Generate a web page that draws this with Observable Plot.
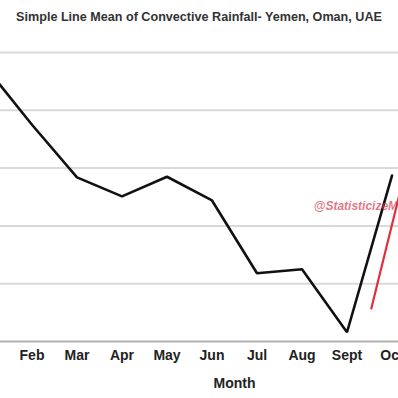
<!DOCTYPE html>
<html>
<head>
<meta charset="utf-8">
<script src="https://cdn.jsdelivr.net/npm/d3@7"></script>
<script src="https://cdn.jsdelivr.net/npm/@observablehq/plot@0.6"></script>
<style>
  html, body { margin: 0; padding: 0; width: 398px; height: 398px; overflow: hidden; background: #fff; }
  #title { position: absolute; left: 0; top: 0; width: 398px; height: 30px; line-height: 34px; text-align: center;
           font-family: "Liberation Sans", Arial, sans-serif; font-weight: bold; font-size: 12.6px; color: #333; white-space: nowrap; }
  #chart { position: absolute; left: -36px; top: 30px; width: 540px; height: 368px; }
  #chart svg { max-width: none !important; width: 540px; height: 368px; }
</style>
</head>
<body>
<div id="title">Simple Line Mean of Convective Rainfall- Yemen, Oman, UAE</div>
<div id="chart"></div>
<script>
const months = ["Jan", "Feb", "Mar", "Apr", "May", "Jun", "Jul", "Aug", "Sept", "Oct", "Nov", "Dec"];
const rainfall = [4.72, 3.75, 2.84, 2.51, 2.85, 2.44, 1.18, 1.25, 0.16, 2.87];
const gridValues = [1, 2, 3, 4, 5];
const xTitle = "Month";
const watermark = "@StatisticizeMe";
const watermarkPos = {x: 7.26, y: 2.35};
const redLineX = [8.54, 9.5];
const redLineY = [0.57, 3.6];

const lineData = rainfall.map((v, i) => ({i, v}));
const redData = redLineX.map((x, k) => ({x, y: redLineY[k]}));

const chart = Plot.plot({
  width: 540,
  height: 368,
  marginLeft: 0,
  marginRight: 0,
  marginTop: 22,
  marginBottom: 57,
  style: {fontFamily: "Liberation Sans, Arial, sans-serif", background: "transparent", overflow: "visible", maxWidth: "none"},
  x: {domain: [-0.5, 11.5], axis: null},
  y: {domain: [0, 5], axis: null},
  marks: [
    Plot.ruleY(gridValues, {stroke: "#d9d9d9", strokeWidth: 2}),
    Plot.ruleY([0], {stroke: "#b0b0b0", strokeWidth: 2}),
    Plot.axisX(d3.range(months.length), {
      tickSize: 0, tickPadding: 9, tickFormat: i => months[i],
      fontSize: 14, fontWeight: "bold", fill: "#222", label: null
    }),
    Plot.text([xTitle], {frameAnchor: "bottom", dy: 46, fontSize: 14, fontWeight: "bold", fill: "#222"}),
    Plot.line(redData, {x: "x", y: "y", stroke: "#e0303c", strokeWidth: 2.2}),
    Plot.line(lineData, {x: "i", y: "v", stroke: "#111", strokeWidth: 2.6, strokeLinejoin: "miter"}),
    Plot.text([watermark], {x: () => watermarkPos.x, y: () => watermarkPos.y, textAnchor: "start",
      fontSize: 12, fontWeight: "bold", fontStyle: "italic", fill: "#d63a4c", fillOpacity: 0.7})
  ]
});
document.getElementById("chart").appendChild(chart);
</script>
</body>
</html>
